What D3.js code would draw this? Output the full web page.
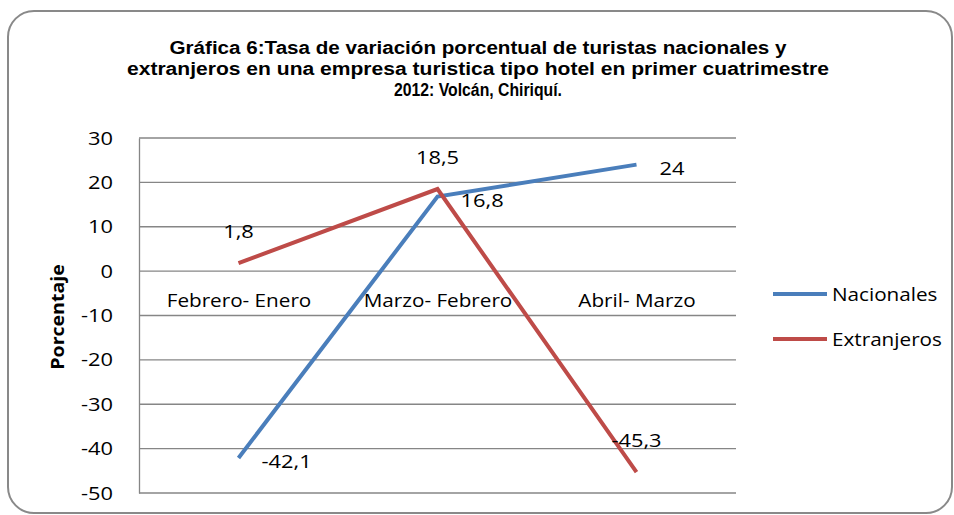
<!DOCTYPE html>
<html>
<head>
<meta charset="utf-8">
<script src="https://cdn.jsdelivr.net/npm/d3@7"></script>
<style>
    body { margin: 0; background: #fff; }
    svg { display: block; }
</style>
</head>
<body>
<div id="chart"></div>
<script>
const titleLines = [
    'Gráfica 6:Tasa de variación porcentual de turistas nacionales  y',
    'extranjeros en una empresa turistica tipo hotel en primer cuatrimestre',
    '2012: Volcán, Chiriquí.'
];
const categories = ['Febrero- Enero', 'Marzo- Febrero', 'Abril- Marzo'];
const nacionales = [-42.1, 16.8, 24];
const extranjeros = [1.8, 18.5, -45.3];
const yTicks = [30, 20, 10, 0, -10, -20, -30, -40, -50];

const config = {
    width: 954,
    height: 515,
    plot: { left: 139, right: 736, top: 138, bottom: 493 },
    titleWidths: [617, 702, 168],
    stretch: 1.15,
    font: '"Open Sans", sans-serif',
    colors: { Nacionales: '#4A7EBB', Extranjeros: '#BE4B48' }
};

const series = [
    { name: 'Nacionales', values: nacionales, labelPos: 'right' },
    { name: 'Extranjeros', values: extranjeros, labelPos: 'above' }
];

const locale = d3.formatLocale({ decimal: ',', thousands: '.', grouping: [3], currency: ['', ''], minus: '-' });
const fmt = locale.format(',');

// the original text is drawn a little wider than the font, stretch it along x
const widen = sel => sel.each(function() {
    const t = d3.select(this);
    const x0 = +t.attr('x') || 0;
    t.attr('x', x0 / config.stretch)
     .attr('transform', 'scale(' + config.stretch + ',1)');
});

const svg = d3.select('#chart').append('svg')
    .attr('width', config.width)
    .attr('height', config.height);

// outer frame
svg.append('rect')
    .attr('x', 8).attr('y', 11)
    .attr('width', 944).attr('height', 502)
    .attr('rx', 26)
    .attr('fill', '#fff')
    .attr('stroke', '#898989')
    .attr('stroke-width', 2);

// title
svg.append('g').selectAll('text')
        .data(titleLines)
    .enter().append('text')
        .attr('x', 478)
        .attr('y', (d, i) => 54 + i * 21)
        .attr('text-anchor', 'middle')
        .attr('textLength', (d, i) => config.titleWidths[i])
        .attr('lengthAdjust', 'spacingAndGlyphs')
        .style('font-family', '"Liberation Sans", Arial, sans-serif')
        .style('font-weight', 'bold')
        .style('font-size', '17.5px')
        .text(d => d);

const x = d3.scalePoint()
    .domain(categories)
    .range([config.plot.left, config.plot.right])
    .padding(0.5);
const y = d3.scaleLinear()
    .domain([-50, 30])
    .range([config.plot.bottom, config.plot.top]);

// gridlines
svg.append('g').selectAll('line')
        .data(yTicks)
    .enter().append('line')
        .attr('x1', config.plot.left).attr('x2', config.plot.right)
        .attr('y1', d => y(d)).attr('y2', d => y(d))
        .attr('stroke', '#868686')
        .attr('stroke-width', 1.3);

// y axis
const yAxis = svg.append('g')
    .attr('transform', 'translate(' + config.plot.left + ',0)')
    .call(d3.axisLeft(y).tickValues(yTicks).tickSize(0).tickPadding(26).tickFormat(fmt));
yAxis.select('.domain').attr('stroke', '#868686').attr('stroke-width', 1.3);
yAxis.selectAll('text')
    .style('font-family', config.font)
    .style('font-size', '19px')
    .attr('fill', '#000')
    .call(widen);

// category labels next to the zero line
const xAxis = svg.append('g')
    .attr('transform', 'translate(0,' + y(0) + ')')
    .call(d3.axisBottom(x).tickSize(0).tickPadding(23));
xAxis.select('.domain').remove();
xAxis.selectAll('text')
    .style('font-family', config.font)
    .style('font-size', '18px')
    .attr('fill', '#000')
    .call(widen);

// axis title
svg.append('text')
    .attr('transform', 'translate(64,317) rotate(-90) scale(' + config.stretch + ',1)')
    .attr('text-anchor', 'middle')
    .style('font-family', config.font)
    .style('font-weight', 'bold')
    .style('font-size', '17px')
    .text('Porcentaje');

const line = d3.line()
    .x((d, i) => x(categories[i]))
    .y(d => y(d));

series.forEach(s => {
    svg.append('path')
        .datum(s.values)
        .attr('d', line)
        .attr('fill', 'none')
        .attr('stroke', config.colors[s.name])
        .attr('stroke-width', 4);
});

// data labels
series.forEach(s => {
    const right = s.labelPos === 'right';
    svg.append('g').selectAll('g')
            .data(s.values)
        .enter().append('g')
            .attr('transform', (d, i) => 'translate('
                + (x(categories[i]) + (right ? 23 : 0)) + ','
                + (y(d) + (right ? 10 : -25)) + ')')
        .append('text')
            .attr('text-anchor', right ? 'start' : 'middle')
            .style('font-family', config.font)
            .style('font-size', '19px')
            .text(d => fmt(d))
            .call(widen);
});

// legend
const legend = svg.append('g').selectAll('g')
        .data(series)
    .enter().append('g')
        .attr('transform', (d, i) => 'translate(773,' + (294 + i * 45) + ')');
legend.append('line')
    .attr('x1', 0).attr('x2', 54)
    .attr('stroke', d => config.colors[d.name])
    .attr('stroke-width', 4);
legend.append('text')
    .attr('x', 59)
    .attr('y', 7)
    .style('font-family', config.font)
    .style('font-size', '18px')
    .text(d => d.name)
    .call(widen);
</script>
</body>
</html>
